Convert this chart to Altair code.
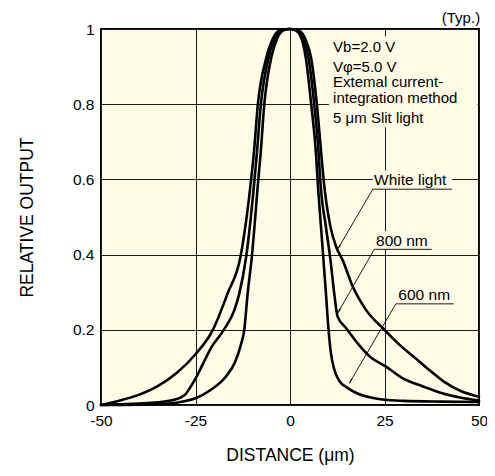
import math
import altair as alt
import pandas as pd

# ---------------- data ----------------
white_x = [-50, -45, -40, -35, -30, -25, -20.4, -16.5, -13.1, -10.3, -9.6, -8.5, -6.3, -4.5, -2.5, 0,
           2.5, 4.2, 5.6, 7.1, 8.3, 8.9, 10.7, 12.2, 13.9, 16.6, 20.1, 25, 29, 33, 37, 41, 45, 50]
white_y = [0.0, 0.012, 0.027, 0.05, 0.085, 0.135, 0.2, 0.297, 0.394, 0.598, 0.665, 0.8, 0.922, 0.975, 0.997, 1.0,
           0.995, 0.97, 0.922, 0.8, 0.665, 0.598, 0.474, 0.421, 0.386, 0.315, 0.253, 0.2, 0.16, 0.126, 0.092, 0.06,
           0.038, 0.022]

nm800_x = [-50, -45, -40, -35, -31, -28, -26.5, -25, -23, -21, -17.5, -14.7, -13.4, -11.6, -9.4, -8.8, -7.7,
           -5.7, -4, -2, 0, 2, 3.7, 4.9, 6.4, 7.6, 8.0, 9.5, 10.7, 11.7, 12.6, 14.8, 17.9, 21, 25.4, 30, 35, 40, 45, 50]
nm800_y = [0, 0.002, 0.004, 0.007, 0.013, 0.025, 0.045, 0.07, 0.11, 0.15, 0.2, 0.253, 0.297, 0.394, 0.598, 0.665, 0.8,
           0.922, 0.975, 0.997, 1.0, 0.996, 0.97, 0.922, 0.8, 0.665, 0.598, 0.474, 0.386, 0.297, 0.235, 0.205, 0.164,
           0.13, 0.102, 0.07, 0.05, 0.032, 0.02, 0.012]

nm600_x = [-50, -40, -32, -28, -25, -21, -17, -14.5, -13, -12.1, -11.2, -10.1, -8.4, -7.8, -6.8, -5.0, -3.4, -1.6, 0,
           1.6, 3.2, 4.2, 5.6, 6.9, 7.3, 8.2, 9.5, 10.2, 10.8, 11.7, 13, 15.3, 18, 21.4, 25, 30, 40, 50]
nm600_y = [0, 0.001, 0.004, 0.01, 0.018, 0.04, 0.075, 0.115, 0.16, 0.2, 0.297, 0.394, 0.598, 0.665, 0.8, 0.922, 0.975,
           0.997, 1.0, 0.996, 0.97, 0.922, 0.8, 0.665, 0.598, 0.474, 0.298, 0.2, 0.14, 0.095, 0.065, 0.045, 0.03, 0.02,
           0.014, 0.011, 0.009, 0.008]

x_ticks = [-50, -25, 0, 25, 50]
y_ticks = [0, 0.2, 0.4, 0.6, 0.8, 1]

# curve labels (annotations)
label_text = ["White light", "800 nm", "600 nm"]
label_x = [31.8, 29.6, 35.5]
label_y = [0.598, 0.436, 0.293]
under_x1 = [21.9, 22.3, 28.0]
under_x2 = [42.9, 37.5, 43.3]
under_y = [0.574, 0.414, 0.269]
tip_x = [12.6, 12.6, 15.7]
tip_y = [0.414, 0.244, 0.058]

info_lines = ["Vb=2.0 V", "V\u03c6=5.0 V", "Extemal current-", "integration method", "5 \u03bcm Slit light"]
info_y = [0.952, 0.899, 0.858, 0.817, 0.762]
info_x = 11.4

# ---------------- styling ----------------
W, H = 378, 376
BG = "#FFFBE6"
FONT = "Liberation Sans"
px_x = W / 100.0
px_y = H / 1.0

curves = pd.concat([
    pd.DataFrame({"x": white_x, "y": white_y, "s": "White light"}),
    pd.DataFrame({"x": nm800_x, "y": nm800_y, "s": "800 nm"}),
    pd.DataFrame({"x": nm600_x, "y": nm600_y, "s": "600 nm"}),
])

xs = alt.Scale(domain=[-50, 50], nice=False, zero=False)
ys = alt.Scale(domain=[0, 1], nice=False, zero=False)

x_axis = alt.Axis(values=x_ticks, grid=True, domain=False, ticks=False, labelPadding=8,
                  labelExpr="'' + datum.value",
                  title="DISTANCE (\u03bcm)", titlePadding=18, labelFlush=False)
y_axis = alt.Axis(values=y_ticks, grid=True, domain=False, ticks=False, labelPadding=7,
                  labelExpr="'' + datum.value",
                  title="RELATIVE OUTPUT", titlePadding=36)

X = alt.X("x:Q", scale=xs, axis=x_axis)
Y = alt.Y("y:Q", scale=ys, axis=y_axis)

line_layer = alt.Chart(curves).mark_line(
    color="black", strokeWidth=2.6, interpolate="monotone", strokeJoin="round", strokeCap="round"
).encode(x=X, y=Y, detail="s:N")

# background boxes behind texts (hide grid lines)
bg_df = pd.DataFrame({
    "x": under_x1 + [10.3],
    "x2": under_x2 + [49.6],
    "y": under_y + [0.739],
    "y2": [ly + 0.026 for ly in label_y] + [0.981],
})
bg_layer = alt.Chart(bg_df).mark_rect(fill=BG, strokeWidth=0).encode(x=X, x2="x2:Q", y=Y, y2="y2:Q")

# underlines and arrow shafts
rules = []
for i in range(3):
    rules.append({"x": under_x1[i], "x2": under_x2[i], "y": under_y[i], "y2": under_y[i]})
    rules.append({"x": under_x1[i], "x2": tip_x[i], "y": under_y[i], "y2": tip_y[i]})
rule_layer = alt.Chart(pd.DataFrame(rules)).mark_rule(color="black", strokeWidth=0.9).encode(
    x=X, x2="x2:Q", y=Y, y2="y2:Q")

# arrow heads
heads = []
for i in range(3):
    dx = (tip_x[i] - under_x1[i]) * px_x
    dy = -(tip_y[i] - under_y[i]) * px_y
    ln = math.hypot(dx, dy)
    ang = math.degrees(math.atan2(dx, -dy)) % 360
    cx = tip_x[i] - (dx / ln * 3.0) / px_x
    cy = tip_y[i] + (dy / ln * 3.0) / px_y
    heads.append({"x": cx, "y": cy, "a": ang})
head_layer = alt.Chart(pd.DataFrame(heads)).mark_point(
    shape="wedge", filled=True, color="black", size=45, opacity=1
).encode(x=X, y=Y, angle=alt.Angle("a:Q", scale=None))

label_layer = alt.Chart(pd.DataFrame({"x": label_x, "y": label_y, "t": label_text})).mark_text(
    font=FONT, fontSize=15.5, color="black", align="center", baseline="middle"
).encode(x=X, y=Y, text="t:N")

info_layer = alt.Chart(pd.DataFrame({"x": [info_x] * len(info_lines), "y": info_y, "t": info_lines})).mark_text(
    font=FONT, fontSize=15, color="black", align="left", baseline="middle"
).encode(x=X, y=Y, text="t:N")

typ_layer = alt.Chart(pd.DataFrame({"x": [50.3], "y": [1.029], "t": ["(Typ.)"]})).mark_text(
    font=FONT, fontSize=15, color="black", align="right", baseline="middle"
).encode(x=X, y=Y, text="t:N")

chart = alt.layer(
    line_layer, bg_layer, rule_layer, head_layer, label_layer, info_layer, typ_layer
).properties(
    width=W, height=H,
    autosize=alt.AutoSizeParams(type="none"),
    padding={"left": 93, "top": 21, "right": 8, "bottom": 60},
).configure_view(
    fill=BG, stroke="black", strokeWidth=2
).configure_axis(
    gridColor="#1a1a1a", gridWidth=1, gridOpacity=1,
    labelFont=FONT, labelFontSize=15.5, labelColor="black",
    titleFont=FONT, titleFontSize=17.5, titleColor="black", titleFontWeight="normal",
)

chart.save("out.html", embed_options={"renderer": "svg", "actions": False})
